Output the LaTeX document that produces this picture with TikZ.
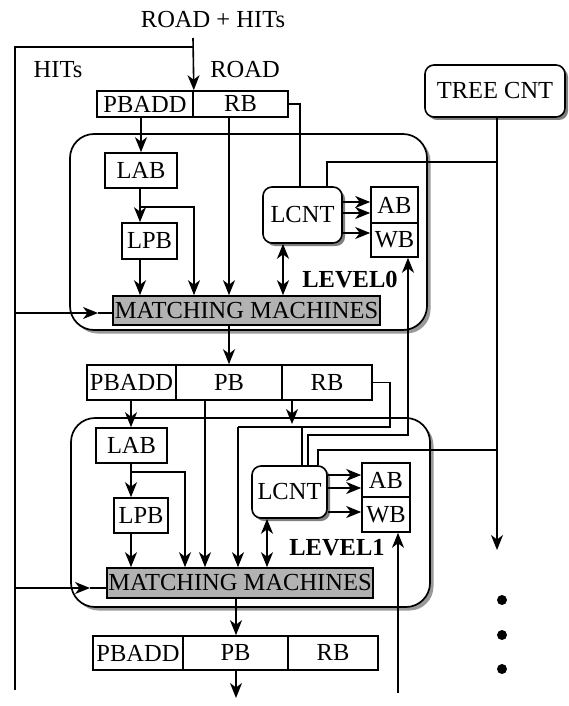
\documentclass[tikz,border=0pt]{standalone}
\usepackage{fontspec}
\setmainfont{Liberation Serif}
\usetikzlibrary{arrows.meta,shadows}
\tikzset{
  txt/.style={font=\fontsize{24.5}{26}\selectfont, inner sep=0pt},
  box/.style={txt, draw, line width=1.6pt, fill=white, anchor=center},
  rbox/.style={box, rounded corners=9pt, drop shadow={shadow xshift=3pt, shadow yshift=-3pt, fill=black}},
  levbox/.style={draw, line width=1.7pt, fill=white, rounded corners=24pt, inner sep=0pt,
     drop shadow={shadow xshift=3.5pt, shadow yshift=-3.5pt, fill=black!80}},
  mmbox/.style={box, fill=gray!60},
  wire/.style={line width=1.6pt},
  arr/.style={wire, -{Stealth[length=15pt,width=12pt,inset=4.5pt]}},
  darr/.style={wire, {Stealth[length=15pt,width=12pt,inset=4.5pt]}-{Stealth[length=15pt,width=12pt,inset=4.5pt]}},
  lvl/.style={txt, font=\fontsize{24.5}{26}\selectfont\bfseries},
  dot/.style={circle, fill=black, inner sep=0pt, minimum size=10pt}
}
\begin{document}
\begin{tikzpicture}[x=1pt, y=-1pt]
\useasboundingbox (0,0) rectangle (568,706);

% level frames
\node[levbox, minimum width=357pt, minimum height=196pt] (lev0) at (248.5,232) {};
\node[levbox, minimum width=359pt, minimum height=189pt] (lev1) at (250.5,512.5) {};

% labels
\node[txt] (roadhits) at (213,20) {ROAD + HITs};
\node[txt] (hits) at (58,70) {HITs};
\node[txt] (road) at (245,70) {ROAD};
\node[lvl] (level0) at (350,280) {LEVEL0};
\node[lvl] (level1) at (337,548) {LEVEL1};

% tree counter
\node[rbox, minimum width=140pt, minimum height=52pt] (treecnt) at (495,91) {TREE CNT};

% level 0 input
\node[box, minimum width=96pt, minimum height=26pt] (pbadd0) at (145,104) {PBADD};
\node[box, minimum width=95pt, minimum height=26pt] (rb0) at (240.5,104) {RB};

% level 0 content
\node[box, minimum width=72pt, minimum height=35pt] (lab0) at (141,170.5) {LAB};
\node[box, minimum width=55pt, minimum height=36pt] (lpb0) at (149.5,241) {LPB};
\node[mmbox, minimum width=267pt, minimum height=29pt] (mm0) at (246.5,310.5) {MATCHING MACHINES};
\node[rbox, minimum width=79pt, minimum height=56pt] (lcnt0) at (302.5,215) {LCNT};
\node[box, minimum width=47pt, minimum height=36pt] (ab0) at (394.5,205) {AB};
\node[box, minimum width=47pt, minimum height=34pt] (wb0) at (394.5,240) {WB};

% level 1 input
\node[box, minimum width=89pt, minimum height=35pt] (pbadd1) at (131.5,382.5) {PBADD};
\node[box, minimum width=106pt, minimum height=35pt] (pb1) at (229,382.5) {PB};
\node[box, minimum width=90pt, minimum height=35pt] (rb1) at (327,382.5) {RB};

% level 1 content
\node[box, minimum width=71pt, minimum height=35pt] (lab1) at (131.5,445.5) {LAB};
\node[box, minimum width=54pt, minimum height=35pt] (lpb1) at (141,515.5) {LPB};
\node[mmbox, minimum width=266pt, minimum height=30pt] (mm1) at (240,583) {MATCHING MACHINES};
\node[rbox, minimum width=75pt, minimum height=52pt] (lcnt1) at (289.5,492) {LCNT};
\node[box, minimum width=48pt, minimum height=34pt] (ab1) at (386,480) {AB};
\node[box, minimum width=48pt, minimum height=35pt] (wb1) at (386,514.5) {WB};

% output row
\node[box, minimum width=90pt, minimum height=34pt] (pbadd2) at (138,653) {PBADD};
\node[box, minimum width=105pt, minimum height=34pt] (pb2) at (235.5,653) {PB};
\node[box, minimum width=90pt, minimum height=34pt] (rb2) at (333,653) {RB};

% dots
\node[dot] (d1) at (502,600) {};
\node[dot] (d2) at (502,635) {};
\node[dot] (d3) at (502,669) {};

% free ends
\coordinate (topin) at (193,38);
\coordinate (split) at (193,47);
\coordinate (busbot) at (15,690);
\coordinate (tcend) at (497,550);
\coordinate (outend) at (236,698);
\coordinate (wbin) at (398,693);

% input and HITs bus
\draw[arr] (topin) -- (pbadd0.north east);
\draw[wire] (split) -- (15,47) -- (busbot);

% level 0 wiring
\draw[arr] (lab0.north |- pbadd0.south) -- (lab0.north);
\draw[arr] (229,0 |- rb0.south) -- (229,0 |- mm0.north);
\draw[wire] (rb0.east) -- (300,0 |- rb0.east) -- (300,0 |- lcnt0.north);
\draw[wire] (327,0 |- lcnt0.north) -- (327,162) -- (497,162);
\draw[arr] (497,0 |- treecnt.south) -- (tcend);
\draw[arr] (140,0 |- lab0.south) -- (140,0 |- lpb0.north);
\draw[arr] (140,207) -- (194,207) -- (194,0 |- mm0.north);
\draw[arr] (140,0 |- lpb0.south) -- (140,0 |- mm0.north);
\draw[darr] (283,0 |- lcnt0.south) -- (283,0 |- mm0.north);
\draw[arr] (lcnt0.east |- 0,202) -- (ab0.west |- 0,202);
\draw[arr] (lcnt0.east |- 0,213) -- (ab0.west |- 0,213);
\draw[arr] (lcnt0.east |- 0,233) -- (wb0.west |- 0,233);
\draw[arr] (15,313) -- (98,313);
\draw[wire] (98,313) -- (mm0.west |- 0,313);
\draw[arr] (229,0 |- mm0.south) -- (229,0 |- pb1.north);

% level 1 wiring
\draw[arr] (131,0 |- pbadd1.south) -- (131,0 |- lab1.north);
\draw[arr] (205,0 |- pb1.south) -- (205,0 |- mm1.north);
\draw[arr] (292,0 |- rb1.south) -- (292,424);
\draw[wire] (rb1.east) -- (390,0 |- rb1.east) -- (390,427) -- (238,427);
\draw[arr] (238,427) -- (238,0 |- mm1.north);
\draw[wire] (302,427) -- (302,0 |- lcnt1.north);
\draw[arr] (308,0 |- lcnt1.north) -- (308,435) -- (408,435) -- (408,0 |- wb0.south);
\draw[wire] (497,450) -- (318,450) -- (318,0 |- lcnt1.north);
\draw[arr] (131,0 |- lab1.south) -- (131,0 |- lpb1.north);
\draw[arr] (131,472) -- (185,472) -- (185,0 |- mm1.north);
\draw[arr] (131,0 |- lpb1.south) -- (131,0 |- mm1.north);
\draw[darr] (267,0 |- lcnt1.south) -- (267,0 |- mm1.north);
\draw[arr] (lcnt1.east |- 0,475) -- (ab1.west |- 0,475);
\draw[arr] (lcnt1.east |- 0,488) -- (ab1.west |- 0,488);
\draw[arr] (lcnt1.east |- 0,512) -- (wb1.west |- 0,512);
\draw[arr] (15,588) -- (90,588);
\draw[wire] (90,588) -- (mm1.west |- 0,588);
\draw[arr] (236,0 |- mm1.south) -- (236,0 |- pb2.north);
\draw[arr] (236,0 |- pb2.south) -- (outend);
\draw[arr] (wbin) -- (398,0 |- wb1.south);
\end{tikzpicture}
\end{document}
